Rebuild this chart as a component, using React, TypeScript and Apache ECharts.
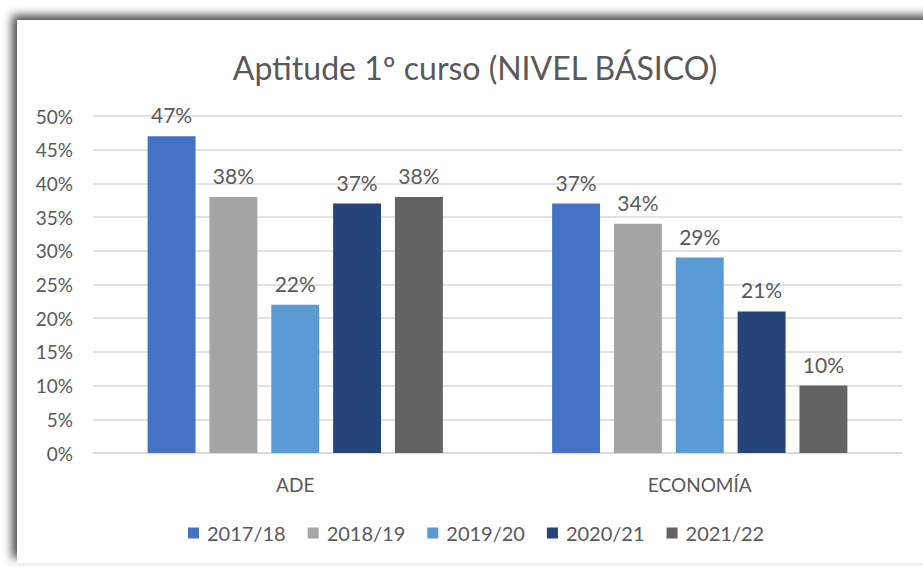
import React, { useEffect, useRef } from "react";
import * as echarts from "echarts";

const categories = ["ADE", "ECONOMÍA"];
const seriesNames = ["2017/18", "2018/19", "2019/20", "2020/21", "2021/22"];
const values2017 = [47, 37];
const values2018 = [38, 34];
const values2019 = [22, 29];
const values2020 = [37, 21];
const values2021 = [38, 10];
const seriesColors = ["#4472C4", "#A5A5A5", "#5B9BD5", "#264478", "#636363"];
const titleText = "Aptitude 1º curso (NIVEL BÁSICO)";

const FONT = "Lato, 'Noto Sans', sans-serif";
const TXT = "#595959";

export default function App() {
  const ref = useRef<HTMLDivElement>(null);
  useEffect(() => {
    if (!ref.current) return;
    const chart = echarts.init(ref.current, undefined, { renderer: "svg" });
    const allValues = [values2017, values2018, values2019, values2020, values2021];
    chart.setOption({
      animation: false,
      backgroundColor: "#ffffff",
      graphic: [
        {
          type: "rect",
          z: -10,
          silent: true,
          shape: { x: 17, y: 20, width: 920, height: 543 },
          style: {
            fill: "#ffffff",
            shadowBlur: 10,
            shadowColor: "rgba(0,0,0,0.7)",
            shadowOffsetX: -5,
            shadowOffsetY: -5,
          },
        },
      ],
      title: {
        text: titleText,
        left: 470,
        top: 46,
        textAlign: "center",
        textStyle: { fontFamily: FONT, fontSize: 32, fontWeight: "normal", color: TXT },
      },
      legend: {
        data: seriesNames,
        bottom: 20,
        left: 183,
        icon: "rect",
        itemWidth: 11,
        itemHeight: 11,
        itemGap: 22,
        textStyle: { fontFamily: FONT, fontSize: 20, color: TXT, padding: [0, 0, 0, 3] },
      },
      grid: { left: 93, right: 21, top: 116, bottom: 115, containLabel: false },
      xAxis: {
        type: "category",
        data: categories,
        axisLine: { lineStyle: { color: "#d9d9d9", width: 1.5 } },
        axisTick: { show: false },
        axisLabel: { fontFamily: FONT, fontSize: 19, color: TXT, margin: 22 },
      },
      yAxis: {
        type: "value",
        min: 0,
        max: 50,
        interval: 5,
        axisLine: { show: false },
        axisTick: { show: false },
        axisLabel: { formatter: "{value}%", fontFamily: FONT, fontSize: 19, color: TXT, margin: 20 },
        splitLine: { lineStyle: { color: "#d9d9d9", width: 1.5 } },
      },
      series: seriesNames.map((name, i) => ({
        name,
        type: "bar",
        data: allValues[i],
        barGap: "29%",
        barCategoryGap: "27%",
        itemStyle: { color: seriesColors[i] },
        label: {
          show: true,
          position: "top",
          distance: 11,
          formatter: "{c}%",
          fontFamily: FONT,
          fontSize: 21,
          color: TXT,
        },
      })),
    });
    return () => chart.dispose();
  }, []);
  return (
    <div
      ref={ref}
      style={{ position: "fixed", left: 0, top: 0, width: 923, height: 568 }}
    />
  );
}
